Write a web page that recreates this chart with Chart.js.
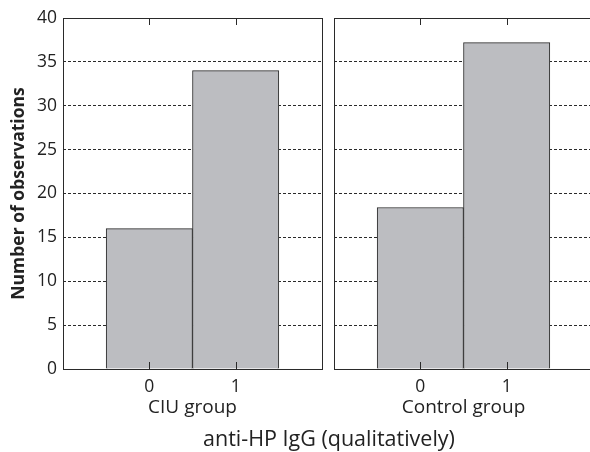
<!DOCTYPE html>
<html>
<head>
<meta charset="utf-8">
<script src="https://cdn.jsdelivr.net/npm/chart.js@4.4.1/dist/chart.umd.min.js"></script>
<style>
html, body { margin: 0; padding: 0; width: 590px; height: 452px; overflow: hidden; background: #fff; }
#leftPanel { position: absolute; left: 0; top: 0; }
#rightPanel { position: absolute; left: 326px; top: 0; }
#xTitle { position: absolute; left: 0; top: 426px; width: 658px; text-align: center;
  font: 21.5px 'Open Sans', sans-serif; line-height: 24px; color: #222; }
</style>
</head>
<body>
<canvas id="leftPanel" width="330" height="452"></canvas>
<canvas id="rightPanel" width="275" height="452"></canvas>
<div id="xTitle">anti-HP IgG (qualitatively)</div>
<script>
// data
var groups = ['CIU group', 'Control group'];
var levels = [0, 1];
var ciuCounts = [16, 34];
var controlCounts = [18.4, 37.2];
var yMax = 40;
var yStep = 5;

Chart.defaults.font.family = "'Open Sans', sans-serif";
Chart.defaults.color = '#222';

var ink = '#2a2a2a';

// box round the plot and the little inward ticks at 0 and 1
var framePlugin = {
    id: 'frame',
    afterDraw: function(chart) {
        var ctx = chart.ctx, a = chart.chartArea, x = chart.scales.x;
        ctx.save();
        ctx.setLineDash([]);
        ctx.strokeStyle = ink;
        ctx.fillStyle = ink;
        ctx.lineWidth = 1;
        ctx.strokeRect(a.left + 0.5, a.top + 0.5, a.right - a.left, a.bottom - a.top);
        for (var i = 0; i < levels.length; i++) {
            var px = Math.round(x.getPixelForValue(levels[i]));
            ctx.fillRect(px, a.top, 1, 7);
            ctx.fillRect(px, a.bottom - 7, 1, 8);
        }
        ctx.restore();
    }
};

function makePanel(id, values, groupName, showY) {
    var ctx = document.getElementById(id).getContext('2d');
    return new Chart(ctx, {
        type: 'bar',
        data: {
            datasets: [{
                data: levels.map(function(l, i) { return {x: l, y: values[i]}; }),
                backgroundColor: '#bcbdc1',
                borderColor: ink,
                borderWidth: 1,
                barPercentage: 1,
                categoryPercentage: 1
            }]
        },
        options: {
            responsive: false,
            animation: false,
            events: [],
            layout: {padding: {left: showY ? 9 : 0, top: 18, right: 8, bottom: 33}},
            plugins: {legend: {display: false}, tooltip: {enabled: false}},
            scales: {
                x: {
                    type: 'linear',
                    min: -1,
                    max: 2,
                    offset: false,
                    grid: {display: false, drawTicks: false},
                    border: {display: false},
                    ticks: {
                        stepSize: 1,
                        padding: 8,
                        font: {size: 17.5},
                        callback: function(v) { return levels.indexOf(v) >= 0 ? String(v) : ''; }
                    },
                    title: {display: true, text: groupName, font: {size: 19}, padding: 0},
                    afterFit: function(s) { s.height = 50; }
                },
                y: {
                    min: 0,
                    max: yMax,
                    grid: {
                        color: function(c) { return (c.tick.value === 0 || c.tick.value === yMax) ? 'rgba(0,0,0,0)' : ink; },
                        lineWidth: 1,
                        drawTicks: false
                    },
                    border: {display: false, dash: [3, 2]},
                    ticks: {display: showY, stepSize: yStep, padding: 6, font: {size: 17.5}},
                    title: {display: showY, text: 'Number of observations', font: {size: 17.5, weight: 'bold'}, padding: 0},
                    afterFit: function(s) { s.width = showY ? 54 : 8; }
                }
            }
        },
        plugins: [framePlugin]
    });
}

makePanel('leftPanel', ciuCounts, groups[0], true);
makePanel('rightPanel', controlCounts, groups[1], false);
</script>
</body>
</html>
